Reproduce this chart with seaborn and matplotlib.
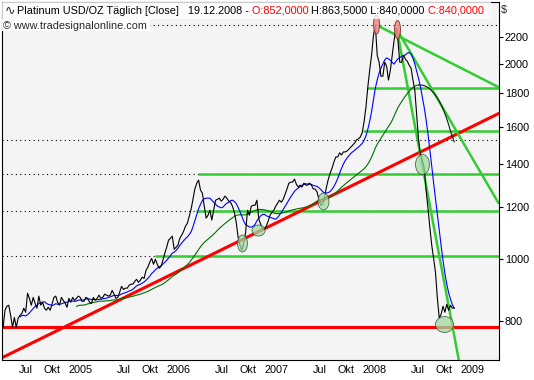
import numpy as np
import pandas as pd
import matplotlib
matplotlib.use("Agg")
import matplotlib.pyplot as plt
from matplotlib.path import Path
from matplotlib.patches import Rectangle
from matplotlib.ticker import NullLocator, NullFormatter
from matplotlib.transforms import Affine2D, ScaledTranslation
import seaborn as sns

wochen = pd.date_range("2004-05-14", "2008-12-19", freq="W-FRI")
schluss = [
    783, 832, 844, 847, 817, 783, 811, 783, 809, 817,
    823, 838, 826, 884, 868, 847, 871, 853, 838, 875,
    847, 856, 838, 832, 841, 832, 850, 871, 875, 856,
    847, 871, 862, 853, 841, 868, 856, 871, 862, 868,
    875, 871, 859, 859, 871, 868, 856, 853, 871, 862,
    868, 878, 868, 871, 881, 878, 875, 878, 893, 881,
    868, 871, 887, 906, 896, 900, 900, 909, 913, 913,
    922, 929, 919, 926, 936, 932, 959, 970, 987, 1001,
    980, 998, 980, 966, 973, 994, 1019, 1041, 1068, 1075,
    1083, 1034, 1041, 1049, 1075, 1087, 1102, 1122, 1134, 1163,
    1192, 1235, 1281, 1308, 1322, 1276, 1262, 1205, 1155, 1167,
    1188, 1147, 1188, 1231, 1235, 1240, 1227, 1235, 1249, 1240,
    1227, 1222, 1205, 1179, 1138, 1079, 1049, 1030, 1056, 1098,
    1188, 1167, 1205, 1209, 1209, 1231, 1151, 1130, 1110, 1110,
    1122, 1143, 1167, 1179, 1188, 1205, 1218, 1231, 1222, 1235,
    1258, 1281, 1308, 1313, 1313, 1327, 1303, 1290, 1299, 1290,
    1308, 1299, 1299, 1308, 1299, 1281, 1281, 1267, 1235, 1209,
    1214, 1244, 1290, 1327, 1356, 1381, 1411, 1436, 1436, 1457,
    1446, 1462, 1462, 1467, 1477, 1488, 1498, 1509, 1526, 1531,
    1542, 1565, 1626, 1714, 1841, 1956, 2063, 2212, 2300, 2063,
    2012, 1914, 1914, 2012, 1984, 1888, 1956, 2063, 2177, 2272,
    2177, 2012, 2012, 2063, 2034, 2019, 1991, 1970, 1888, 1822,
    1667, 1526, 1446, 1421, 1381, 1276, 1197, 1118, 1049, 1001,
    952, 868, 809, 820, 844, 826, 850, 832, 847, 838,
    840,
]

# Horizontale Linien
stuetz_rot = 783
gruen_niveaus = [1835, 1573, 1351, 1184, 1008]
gruen_start = ["2008-01-28", "2008-01-13", "2006-05-10", "2006-05-02", "2005-11-29"]
punkt_niveaus = [2296, 1524, 1351, 1184, 1008]

# Trendlinien (Datum, Kurs)
rot_daten = ["2004-05-08", "2009-06-02"]
rot_kurse = [702, 1676]
gruen_trend_daten = [["2008-03-05", "2009-06-02"], ["2008-05-19", "2009-06-02"], ["2008-05-19", "2009-01-05"]]
gruen_trend_kurse = [[2296, 1841], [2263, 1218], [2263, 696]]

# markierte Hochs und Tiefs
hoch_daten = ["2008-03-02", "2008-05-18"]
hoch_kurse = [2309, 2263]
tief_daten = ["2006-10-19", "2006-12-20", "2007-08-17", "2008-08-19", "2008-11-09"]
tief_kurse = [1056, 1106, 1229, 1400, 791]

# Achsen
y_ticks = [800, 1000, 1200, 1400, 1600, 1800, 2000, 2200]
x_ticks = ["2004-07-01", "2004-10-01", "2005-01-01", "2005-07-01", "2005-10-01",
           "2006-01-01", "2006-07-01", "2006-10-01", "2007-01-01", "2007-07-01",
           "2007-10-01", "2008-01-01", "2008-07-01", "2008-10-01", "2009-01-01"]
x_labels = ["Jul", "Okt", "2005", "Jul", "Okt", "2006", "Jul", "Okt", "2007",
            "Jul", "Okt", "2008", "Jul", "Okt", "2009"]
x_grenzen = ["2004-05-08", "2009-06-02"]
y_grenzen = [696, 2493]

# Formen der Markierungen in Pixeln (Breite, Höhe)
hoch_form = [(6, 19), (6, 18)]
tief_form = [(10, 17), (13, 11), (11, 17), (14, 20), (18, 16)]

# --- Indikatoren ---
kurs = pd.Series(schluss, index=wochen, dtype=float)
gd50 = kurs.rolling(10).mean()    # ~50 Handelstage
gd200 = kurs.rolling(40).mean()   # ~200 Handelstage
spitze = gd200.idxmax()

# --- Stil ---
sns.set_style("white")
plt.rcParams["font.family"] = ["Liberation Sans", "DejaVu Sans"]
fs = 7.8
GRUEN = "#33cc33"

fig = plt.figure(figsize=(5.34, 3.80), dpi=100)
ax = fig.add_axes([1.5 / 534, 1 - 360.4 / 380, 497.1 / 534, 358.4 / 380])
ax.set_facecolor("#f4f4f4")
x_ende = pd.Timestamp(x_grenzen[1])

for lvl in punkt_niveaus:
    ax.axhline(lvl, color="black", lw=0.8, ls=(0, (1, 3)), zorder=1)
ax.axhline(stuetz_rot, color="red", lw=2.2, zorder=2)
for lvl, start in zip(gruen_niveaus, pd.to_datetime(gruen_start)):
    ax.plot([start, x_ende], [lvl, lvl], color=GRUEN, lw=1.8, zorder=2, solid_capstyle="butt")

ax.plot(pd.to_datetime(rot_daten), rot_kurse, color="red", lw=2.2, zorder=2)
for d, k in zip(gruen_trend_daten, gruen_trend_kurse):
    ax.plot(pd.to_datetime(d), k, color=GRUEN, lw=1.8, zorder=2)

# Gleitende Durchschnitte und Kurs
sns.lineplot(x=gd200.loc[:spitze].index, y=gd200.loc[:spitze].values, ax=ax, color="#007000", lw=0.8, zorder=3)
sns.lineplot(x=gd200.loc[spitze:].index, y=gd200.loc[spitze:].values, ax=ax, color="#102010", lw=0.8, zorder=3)
sns.lineplot(x=gd50.index, y=gd50.values, ax=ax, color="#0000ff", lw=0.8, zorder=3)
sns.lineplot(x=kurs.index, y=kurs.values, ax=ax, color="black", lw=0.8, zorder=4)

# Markierungen
def ellipse(w, h):
    return Path.unit_circle().transformed(Affine2D().scale(w, h))

for d, k, (w, h) in zip(pd.to_datetime(hoch_daten), hoch_kurse, hoch_form):
    ax.plot([d], [k], marker=ellipse(w, h), ms=max(w, h) * 0.72, mfc="#f08c8c",
            mec="#802020", mew=0.6, alpha=0.9, zorder=5)
for d, k, (w, h) in zip(pd.to_datetime(tief_daten), tief_kurse, tief_form):
    ax.plot([d], [k], marker=ellipse(w, h), ms=max(w, h) * 0.72, mfc="#a0d8a0",
            mec="#204020", mew=0.6, alpha=0.75, zorder=5)

# Achsen
ax.set_yscale("log")
ax.set_xlim(pd.to_datetime(x_grenzen))
ax.set_ylim(y_grenzen)
ax.yaxis.tick_right()
ax.set_yticks(y_ticks, labels=[str(v) for v in y_ticks])
ax.yaxis.set_minor_locator(NullLocator())
ax.yaxis.set_minor_formatter(NullFormatter())
ax.set_xticks(pd.to_datetime(x_ticks), labels=x_labels)
ax.tick_params(axis="y", direction="out", length=3, width=0.8, pad=1.5, labelsize=fs, colors="black")
ax.tick_params(axis="x", direction="out", length=3, width=0.8, pad=0.5, labelsize=fs, colors="black")
versatz = ScaledTranslation(2 / 72, 0, fig.dpi_scale_trans)
for lbl in ax.get_xticklabels():
    lbl.set_horizontalalignment("left")
    lbl.set_transform(lbl.get_transform() + versatz)
ax.set_xlabel("")
ax.set_ylabel("")
for sp in ax.spines.values():
    sp.set_color("black")
    sp.set_linewidth(0.8)

# Titelzeilen
ax.add_patch(Rectangle((0, 0.9526), 0.984, 0.0474, transform=ax.transAxes,
                       fc="white", ec="none", alpha=0.8, zorder=6))
ax.add_patch(Rectangle((0, 0.919), 0.298, 0.034, transform=ax.transAxes,
                       fc="white", ec="none", zorder=6))
ax.text(0.006, 0.975, "∿", transform=ax.transAxes, fontsize=9, va="center",
        ha="left", family="DejaVu Sans", zorder=7)
teile = [("Platinum USD/OZ Täglich [Close]   19.12.2008 -", "black"),
         (" O:852,0000", "red"), (" H:863,5000 L:840,0000", "black"), (" C:840,0000", "red")]
txt = ax.text(0.031, 0.975, teile[0][0], transform=ax.transAxes, color=teile[0][1],
              fontsize=fs, va="center", ha="left", zorder=7)
for s, c in teile[1:]:
    txt = ax.annotate(s, xy=(1, 0), xycoords=txt, va="bottom", ha="left",
                      color=c, fontsize=fs, zorder=7)
ax.text(0.004, 0.933, "© www.tradesignalonline.com", transform=ax.transAxes,
        fontsize=fs, va="center", ha="left", zorder=7)
fig.text(501 / 534, 1 - 10 / 380, "$", fontsize=fs, va="center", ha="left")

fig.savefig("out.png", dpi=100)
